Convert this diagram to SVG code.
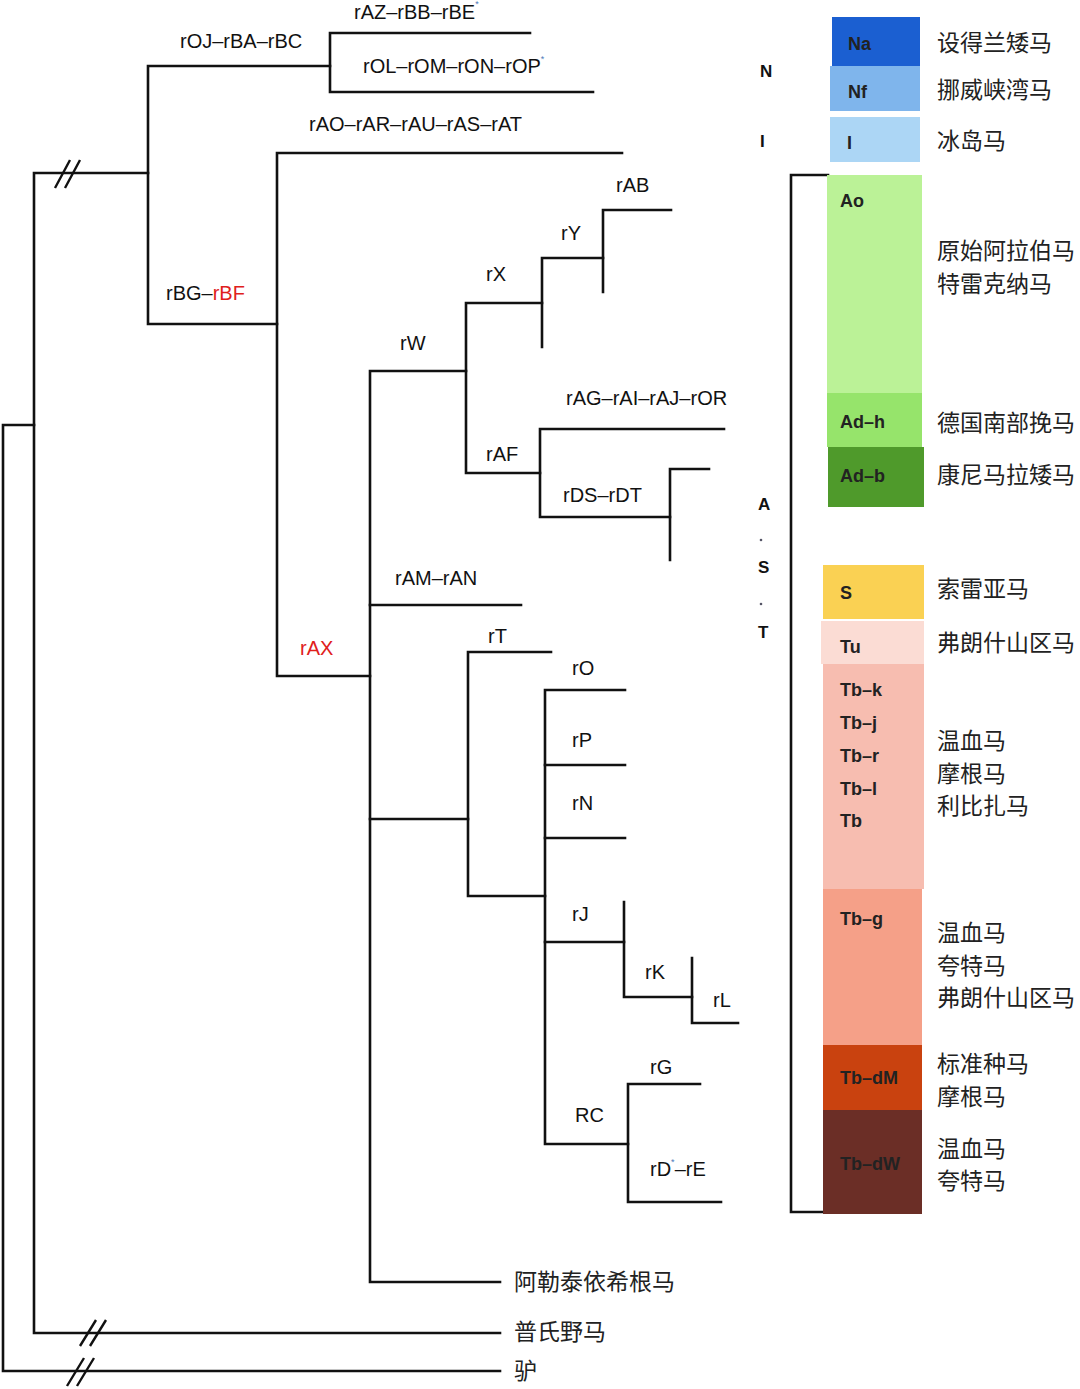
<svg xmlns="http://www.w3.org/2000/svg" width="1080" height="1389" viewBox="0 0 1080 1389">
<style>
.ln{stroke:#111;stroke-width:2.6;fill:none;stroke-linecap:square}
.hs{stroke:#111;stroke-width:2.4;fill:none}
.lb{font-family:"Liberation Sans",Arial,sans-serif;font-size:20px;fill:#111}
.red{fill:#e0201b}
.bx{font-family:"Liberation Sans",Arial,sans-serif;font-size:18px;font-weight:bold;fill:#222}
.grp{font-family:"Liberation Sans",Arial,sans-serif;font-size:17px;font-weight:bold;fill:#111}
.cn{font-family:"Noto Sans CJK SC","Noto Sans CJK TC",sans-serif;font-size:23px;fill:#222}
.st{font-size:9px;fill:#4a78b8}
</style>
<rect width="1080" height="1389" fill="#fff"/>
<g id="connectors">
<path class="ln" d="M500,1371 H3 V425 H34"/>
<path class="ln" d="M500,1333 H34 V173 H148"/>
<path class="ln" d="M330,66 H148 V324 H277"/>
<path class="ln" d="M530,33 H330 V92 H593"/>
<path class="ln" d="M622,153 H277 V676 H370"/>
<path class="ln" d="M466,371 H370 V1282 H500"/>
<path class="ln" d="M370,605 H521"/>
<path class="ln" d="M370,819 H468"/>
<path class="ln" d="M542,303 H466 V473 H540"/>
<path class="ln" d="M603,258 H542 V347"/>
<path class="ln" d="M671,210 H603 V292"/>
<path class="ln" d="M724,429 H540 V517 H670"/>
<path class="ln" d="M709,469 H670 V560"/>
<path class="ln" d="M551,652 H468 V896 H545"/>
<path class="ln" d="M625,690 H545 V1144 H628"/>
<path class="ln" d="M545,765 H625"/>
<path class="ln" d="M545,838 H625"/>
<path class="ln" d="M545,942 H624"/>
<path class="ln" d="M624,902 V997 H692"/>
<path class="ln" d="M692,958 V1023 H738"/>
<path class="ln" d="M700,1084 H628 V1202 H721"/>
<path class="ln" d="M828,175 H791 V1212 H824"/>
<path class="hs" d="M55,188 L70,160 M65,188 L80,160"/>
<path class="hs" d="M80,1346 L96,1320 M90,1346 L106,1320"/>
<path class="hs" d="M67,1386 L84,1358 M77,1386 L94,1358"/>
</g>
<g id="tree-labels">
<g id="n-rAZ"><text class="lb" x="354" y="19">rAZ–rBB–rBE<tspan class="st" dy="-12">*</tspan></text></g>
<g id="n-rOJ"><text class="lb" x="180" y="48">rOJ–rBA–rBC</text></g>
<g id="n-rOL"><text class="lb" x="363" y="73">rOL–rOM–rON–rOP<tspan class="st" dy="-11">*</tspan></text></g>
<g id="n-rAO"><text class="lb" x="309" y="131">rAO–rAR–rAU–rAS–rAT</text></g>
<g id="n-rBG"><text class="lb" x="166" y="300">rBG–<tspan class="red">rBF</tspan></text></g>
<g id="n-rAX"><text class="lb red" x="300" y="655">rAX</text></g>
<g id="n-rAB"><text class="lb" x="616" y="192">rAB</text></g>
<g id="n-rY"><text class="lb" x="561" y="240">rY</text></g>
<g id="n-rX"><text class="lb" x="486" y="281">rX</text></g>
<g id="n-rW"><text class="lb" x="400" y="350">rW</text></g>
<g id="n-rAG"><text class="lb" x="566" y="405">rAG–rAI–rAJ–rOR</text></g>
<g id="n-rAF"><text class="lb" x="486" y="461">rAF</text></g>
<g id="n-rDS"><text class="lb" x="563" y="502">rDS–rDT</text></g>
<g id="n-rAM"><text class="lb" x="395" y="585">rAM–rAN</text></g>
<g id="n-rT"><text class="lb" x="488" y="643">rT</text></g>
<g id="n-rO"><text class="lb" x="572" y="675">rO</text></g>
<g id="n-rP"><text class="lb" x="572" y="747">rP</text></g>
<g id="n-rN"><text class="lb" x="572" y="810">rN</text></g>
<g id="n-rJ"><text class="lb" x="572" y="921">rJ</text></g>
<g id="n-rK"><text class="lb" x="645" y="979">rK</text></g>
<g id="n-rL"><text class="lb" x="713" y="1007">rL</text></g>
<g id="n-rG"><text class="lb" x="650" y="1074">rG</text></g>
<g id="n-RC"><text class="lb" x="575" y="1122">RC</text></g>
<g id="n-rD"><text class="lb" x="650" y="1176">rD<tspan class="st" fill="#888" dy="-11">*</tspan><tspan dy="11">–rE</tspan></text></g>
<g id="n-altai"><text class="cn" x="514" y="1290">阿勒泰依希根马</text></g>
<g id="n-przewalski"><text class="cn" x="514" y="1340">普氏野马</text></g>
<g id="n-donkey"><text class="cn" x="514" y="1379">驴</text></g>
</g>
<g id="group-letters">
<text class="grp" x="760" y="77">N</text>
<text class="grp" x="760" y="147">I</text>
<text class="grp" x="758" y="510">A</text>
<circle cx="761" cy="540" r="1.3" fill="#556"/>
<text class="grp" x="758" y="573">S</text>
<circle cx="761" cy="604" r="1.3" fill="#556"/>
<text class="grp" x="758" y="638">T</text>
</g>
<g id="boxes">
<g id="b-Na"><rect x="832" y="17" width="88" height="49" fill="#1b5fd1"/><text class="bx" x="848" y="50">Na</text><text class="cn" x="937" y="51">设得兰矮马</text></g>
<g id="b-Nf"><rect x="830" y="66" width="90" height="45" fill="#7fb5ec"/><text class="bx" x="848" y="98">Nf</text><text class="cn" x="937" y="98">挪威峡湾马</text></g>
<g id="b-I"><rect x="830" y="117" width="90" height="45" fill="#acd6f5"/><text class="bx" x="847" y="149">I</text><text class="cn" x="937" y="149">冰岛马</text></g>
<g id="b-Ao"><rect x="827" y="175" width="95" height="218" fill="#bbf297"/><text class="bx" x="840" y="207">Ao</text><text class="cn" x="937" y="259">原始阿拉伯马</text><text class="cn" x="937" y="292">特雷克纳马</text></g>
<g id="b-Adh"><rect x="827" y="393" width="95" height="54" fill="#96e46b"/><text class="bx" x="840" y="428">Ad–h</text><text class="cn" x="937" y="431">德国南部挽马</text></g>
<g id="b-Adb"><rect x="828" y="447" width="96" height="60" fill="#4f9a2b"/><text class="bx" x="840" y="482">Ad–b</text><text class="cn" x="937" y="483">康尼马拉矮马</text></g>
<g id="b-S"><rect x="823" y="565" width="101" height="54" fill="#fad153"/><text class="bx" x="840" y="599">S</text><text class="cn" x="937" y="597">索雷亚马</text></g>
<g id="b-Tu"><rect x="821" y="621" width="103" height="43" fill="#fbdcd4"/><text class="bx" x="840" y="653">Tu</text><text class="cn" x="937" y="651">弗朗什山区马</text></g>
<g id="b-Tb"><rect x="823" y="664" width="101" height="225" fill="#f7bdb0"/>
<text class="bx" x="840" y="696">Tb–k</text><text class="bx" x="840" y="729">Tb–j</text><text class="bx" x="840" y="762">Tb–r</text><text class="bx" x="840" y="795">Tb–l</text><text class="bx" x="840" y="827">Tb</text>
<text class="cn" x="937" y="749">温血马</text><text class="cn" x="937" y="782">摩根马</text><text class="cn" x="937" y="814">利比扎马</text></g>
<g id="b-Tbg"><rect x="823" y="889" width="99" height="156" fill="#f5a088"/><text class="bx" x="840" y="925">Tb–g</text>
<text class="cn" x="937" y="941">温血马</text><text class="cn" x="937" y="974">夸特马</text><text class="cn" x="937" y="1006">弗朗什山区马</text></g>
<g id="b-TbdM"><rect x="823" y="1045" width="99" height="65" fill="#c9420f"/><text class="bx" x="840" y="1084">Tb–dM</text>
<text class="cn" x="937" y="1072">标准种马</text><text class="cn" x="937" y="1105">摩根马</text></g>
<g id="b-TbdW"><rect x="823" y="1110" width="99" height="104" fill="#6b2e26"/><text class="bx" x="840" y="1170" fill="#3a1a16">Tb–dW</text>
<text class="cn" x="937" y="1157">温血马</text><text class="cn" x="937" y="1189">夸特马</text></g>
</g>
</svg>
